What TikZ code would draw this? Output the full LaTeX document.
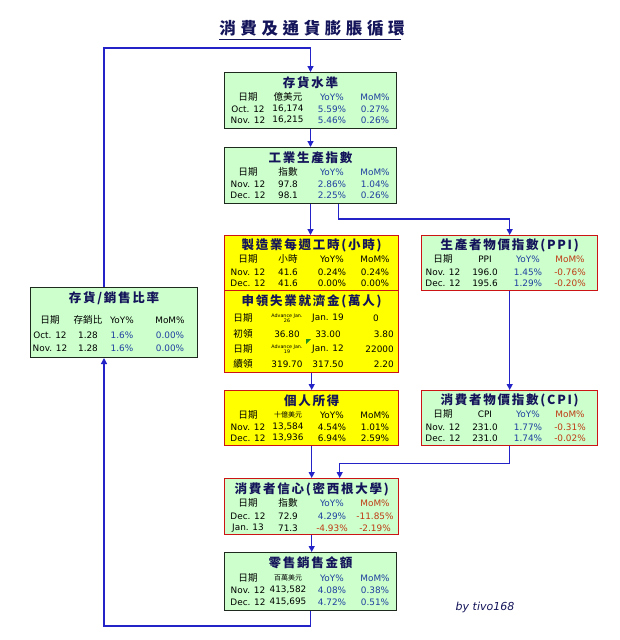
\documentclass[tikz,border=0pt]{standalone}
\usepackage{fontspec}
\setmainfont{DejaVu Sans}
\newfontfamily\cjk{Noto Sans CJK TC}
\newfontfamily\headfont[LetterSpace=14]{Noto Sans CJK TC}
\newfontfamily\titlefont[LetterSpace=28]{Noto Sans CJK TC}
\usetikzlibrary{arrows.meta,calc}
\definecolor{linkblue}{HTML}{2323C8}
\definecolor{boxgreen}{HTML}{CCFFCC}
\definecolor{boxyellow}{HTML}{FFFF00}
\definecolor{boxred}{HTML}{CC1414}
\definecolor{boxdark}{HTML}{1E2A1E}
\definecolor{headnavy}{HTML}{14145A}
\definecolor{valblue}{HTML}{1F3FA0}
\definecolor{valred}{HTML}{C03A14}
\definecolor{marker}{HTML}{209020}
\newcommand\vb[1]{\textcolor{valblue}{#1}}
\newcommand\vr[1]{\textcolor{valred}{#1}}
\newcommand\cj[1]{{\cjk\fontsize{9.6}{10}\selectfont #1}}
\newcommand\cA{24}\newcommand\cB{64}\newcommand\cC{108}\newcommand\cD{151}
\newcommand\trow[6]{%
  \node[txt] (#1#2a) at ($(#1.north west)+(\cA,#2)$) {#3};
  \node[txt] (#1#2b) at ($(#1.north west)+(\cB,#2)$) {#4};
  \node[txt] (#1#2c) at ($(#1.north west)+(\cC,#2)$) {#5};
  \node[txt] (#1#2d) at ($(#1.north west)+(\cD,#2)$) {#6};}
\newcommand\htitle[3]{\node[head] (#1t) at ($(#1.north)+(0,#2)$) {#3};}
\begin{document}
\begin{tikzpicture}[x=1pt,y=-1pt,
  txt/.style={font=\fontsize{8.9}{9.5}\selectfont, inner sep=0, anchor=center},
  head/.style={font=\headfont\bfseries\fontsize{12.5}{13}\selectfont, text=headnavy, inner sep=0},
  gbox/.style={draw=boxdark, fill=boxgreen, line width=1pt, rectangle, inner sep=0, anchor=north west},
  grbox/.style={draw=boxred, fill=boxgreen, line width=1.4pt, rectangle, inner sep=0, anchor=north west},
  ybox/.style={draw=boxred, fill=boxyellow, line width=1.4pt, rectangle, inner sep=0, anchor=north west},
  conn/.style={draw=linkblue, line width=1.3pt, -{Triangle[length=6pt,width=6pt]}},
  tiny/.style={font=\fontsize{4.8}{5.2}\selectfont, inner sep=0, align=center}]
\fill[white] (0,0) rectangle (620,640);
\useasboundingbox (0,0) rectangle (620,640);

% title
\node[font=\titlefont\bfseries\fontsize{16.5}{18}\selectfont, text=headnavy, inner sep=0] (title) at (312,28) {消費及通貨膨脹循環};
\draw[headnavy, line width=1pt] ($(title.south west)+(0,3)$) -- ($(title.south east)+(-4,3)$);

% boxes
\node[gbox, minimum width=172pt, minimum height=56pt] (inv) at (224,72) {};
\node[gbox, minimum width=172pt, minimum height=56pt] (ip) at (224,147) {};
\node[ybox, minimum width=174pt, minimum height=55pt] (hours) at (224,235) {};
\node[ybox, minimum width=174pt, minimum height=82pt] (claims) at (224,290) {};
\node[grbox, minimum width=176pt, minimum height=55pt] (ppi) at (421,235) {};
\node[gbox, minimum width=167pt, minimum height=70pt] (invs) at (30,287) {};
\node[ybox, minimum width=174pt, minimum height=55pt] (income) at (224,390) {};
\node[grbox, minimum width=176pt, minimum height=55pt] (cpi) at (421,390) {};
\node[grbox, minimum width=174pt, minimum height=56pt] (conf) at (224,478) {};
\node[gbox, minimum width=172pt, minimum height=58pt] (retail) at (224,552) {};

% connectors
\coordinate (ipr) at ($(ip.south)+(28,0)$);
\coordinate (confr) at ($(conf.north)+(28,0)$);
\coordinate (invsB) at ($(invs.south)+(-10,0)$);
\coordinate (invsT) at ($(invs.north)+(-10,0)$);
\draw[conn] (inv.south) -- (ip.north);
\draw[conn] (ip.south) -- (ip.south |- hours.north);
\draw[conn] (ipr) -- ++(0,15) -| (ppi.north);
\draw[conn] (claims.south) -- (income.north);
\draw[conn] (ppi.south) -- (cpi.north);
\draw[conn] (income.south) -- (conf.north);
\draw[conn] (cpi.south) -- ++(0,17) -| (confr);
\draw[conn] (conf.south) -- (conf.south |- retail.north);
\draw[conn] (retail.south) -- ++(0,15) -| (invsB);
\draw[conn] (invsT) |- ($(inv.north)+(0,-24)$) -- (inv.north);

% 存貨水準
\htitle{inv}{11}{存貨水準}
\trow{inv}{25}{\cj{日期}}{\cj{億美元}}{\vb{YoY\%}}{\vb{MoM\%}}
\trow{inv}{37}{Oct. 12}{16,174}{\vb{5.59\%}}{\vb{0.27\%}}
\trow{inv}{48}{Nov. 12}{16,215}{\vb{5.46\%}}{\vb{0.26\%}}

% 工業生產指數
\htitle{ip}{11}{工業生產指數}
\trow{ip}{25}{\cj{日期}}{\cj{指數}}{\vb{YoY\%}}{\vb{MoM\%}}
\trow{ip}{37}{Nov. 12}{97.8}{\vb{2.86\%}}{\vb{1.04\%}}
\trow{ip}{48}{Dec. 12}{98.1}{\vb{2.25\%}}{\vb{0.26\%}}

% 製造業每週工時
\htitle{hours}{10}{製造業每週工時(小時)}
\trow{hours}{24}{\cj{日期}}{\cj{小時}}{YoY\%}{MoM\%}
\trow{hours}{37}{Nov. 12}{41.6}{0.24\%}{0.24\%}
\trow{hours}{48}{Dec. 12}{41.6}{0.00\%}{0.00\%}

% 申領失業就濟金
\htitle{claims}{11}{申領失業就濟金(萬人)}
\node[txt] (cl1a) at ($(claims.north west)+(19,28)$) {\cj{日期}};
\node[tiny] (cl1b) at ($(claims.north west)+(63,28)$) {Advance Jan.\\26};
\node[txt] (cl1c) at ($(claims.north west)+(104,28)$) {Jan. 19};
\node[txt] (cl1d) at ($(claims.north west)+(152,28)$) {0};
\node[txt] (cl2a) at ($(claims.north west)+(19,44)$) {\cj{初領}};
\node[txt] (cl2b) at ($(claims.north west)+(63,44)$) {36.80};
\node[txt] (cl2c) at ($(claims.north west)+(104,44)$) {33.00};
\node[txt, anchor=east] (cl2d) at ($(claims.north west)+(170,44)$) {3.80};
\node[txt] (cl3a) at ($(claims.north west)+(19,59)$) {\cj{日期}};
\node[tiny] (cl3b) at ($(claims.north west)+(63,59)$) {Advance Jan.\\19};
\node[txt] (cl3c) at ($(claims.north west)+(104,59)$) {Jan. 12};
\node[txt, anchor=east] (cl3d) at ($(claims.north west)+(170,59)$) {22000};
\node[txt] (cl4a) at ($(claims.north west)+(19,74)$) {\cj{續領}};
\node[txt] (cl4b) at ($(claims.north west)+(63,74)$) {319.70};
\node[txt] (cl4c) at ($(claims.north west)+(104,74)$) {317.50};
\node[txt, anchor=east] (cl4d) at ($(claims.north west)+(170,74)$) {2.20};
\fill[marker] ($(claims.north west)+(82,49)$) -- ++(5,0) -- ++(-5,5) -- cycle;

% PPI
\renewcommand\cA{22}\renewcommand\cB{64}\renewcommand\cC{107}\renewcommand\cD{149}
\htitle{ppi}{10}{生產者物價指數(PPI)}
\trow{ppi}{24}{\cj{日期}}{PPI}{\vb{YoY\%}}{\vr{MoM\%}}
\trow{ppi}{37}{Nov. 12}{196.0}{\vb{1.45\%}}{\vr{-0.76\%}}
\trow{ppi}{48}{Dec. 12}{195.6}{\vb{1.29\%}}{\vr{-0.20\%}}

% CPI
\htitle{cpi}{10}{消費者物價指數(CPI)}
\trow{cpi}{24}{\cj{日期}}{CPI}{\vb{YoY\%}}{\vr{MoM\%}}
\trow{cpi}{37}{Nov. 12}{231.0}{\vb{1.77\%}}{\vr{-0.31\%}}
\trow{cpi}{48}{Dec. 12}{231.0}{\vb{1.74\%}}{\vr{-0.02\%}}

% 存貨/銷售比率
\renewcommand\cA{20}\renewcommand\cB{58}\renewcommand\cC{92}\renewcommand\cD{140}
\htitle{invs}{11}{存貨/銷售比率}
\trow{invs}{33}{\cj{日期}}{\cj{存銷比}}{YoY\%}{MoM\%}
\trow{invs}{48}{Oct. 12}{1.28}{\vb{1.6\%}}{\vb{0.00\%}}
\trow{invs}{61}{Nov. 12}{1.28}{\vb{1.6\%}}{\vb{0.00\%}}

% 個人所得
\renewcommand\cA{24}\renewcommand\cB{64}\renewcommand\cC{108}\renewcommand\cD{151}
\htitle{income}{11}{個人所得}
\trow{income}{25}{\cj{日期}}{\cjk\fontsize{7}{8}\selectfont 十億美元}{YoY\%}{MoM\%}
\trow{income}{37}{Nov. 12}{13,584}{4.54\%}{1.01\%}
\trow{income}{48}{Dec. 12}{13,936}{6.94\%}{2.59\%}

% 消費者信心
\htitle{conf}{11}{消費者信心(密西根大學)}
\trow{conf}{25}{\cj{日期}}{\cj{指數}}{\vb{YoY\%}}{\vr{MoM\%}}
\trow{conf}{38}{Dec. 12}{72.9}{\vb{4.29\%}}{\vr{-11.85\%}}
\trow{conf}{50}{Jan. 13}{71.3}{\vr{-4.93\%}}{\vr{-2.19\%}}

% 零售銷售金額
\htitle{retail}{11}{零售銷售金額}
\trow{retail}{26}{\cj{日期}}{\cjk\fontsize{7}{8}\selectfont 百萬美元}{\vb{YoY\%}}{\vb{MoM\%}}
\trow{retail}{38}{Nov. 12}{413,582}{\vb{4.08\%}}{\vb{0.38\%}}
\trow{retail}{50}{Dec. 12}{415,695}{\vb{4.72\%}}{\vb{0.51\%}}

% signature
\node[font=\itshape\fontsize{11}{12}\selectfont, text=headnavy, inner sep=0] (sig) at (485,607) {by tivo168};
\end{tikzpicture}
\end{document}
